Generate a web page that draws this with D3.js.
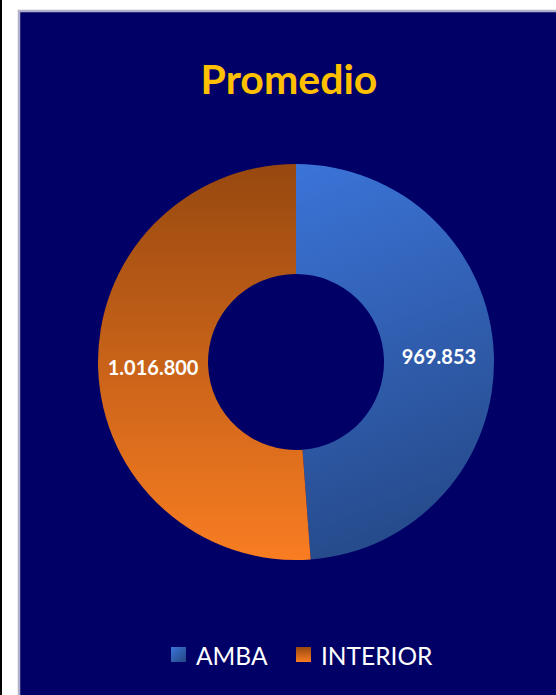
<!DOCTYPE html>
<html><head><meta charset="utf-8">
<script src="https://cdn.jsdelivr.net/npm/d3@7"></script>
<style>html,body{margin:0;padding:0;background:#fff;overflow:hidden}</style>
</head><body>
<script>
const title = "Promedio";
const categories = ["AMBA", "INTERIOR"];
const values = [969853, 1016800];
const labels = ["969.853", "1.016.800"];

const W = 556, H = 695;
const svg = d3.select("body").append("svg").attr("width", W).attr("height", H);

// frame
svg.append("rect").attr("x",0).attr("y",0).attr("width",2).attr("height",H).attr("fill","#000");
svg.append("rect").attr("x",19).attr("y",11).attr("width",W).attr("height",H).attr("fill","#000066")
  .attr("stroke","#b0b0c8").attr("stroke-width",2.5);

const defs = svg.append("defs");
const cx = 296, cy = 362, rOut = 198, rIn = 88;

const gA = defs.append("linearGradient").attr("id","gA").attr("gradientUnits","userSpaceOnUse")
  .attr("x1",0).attr("y1",-rOut).attr("x2",rOut*0.8).attr("y2",rOut);
gA.append("stop").attr("offset","0").attr("stop-color","#3b74d8");
gA.append("stop").attr("offset","1").attr("stop-color","#244683");
const gI = defs.append("linearGradient").attr("id","gI").attr("gradientUnits","userSpaceOnUse")
  .attr("x1",0).attr("y1",-rOut).attr("x2",0).attr("y2",rOut);
gI.append("stop").attr("offset","0").attr("stop-color","#974810");
gI.append("stop").attr("offset","1").attr("stop-color","#f97d22");

const gAL = defs.append("linearGradient").attr("id","gAL").attr("x1",0).attr("y1",0).attr("x2",1).attr("y2",1);
gAL.append("stop").attr("offset","0").attr("stop-color","#3b74d8");
gAL.append("stop").attr("offset","1").attr("stop-color","#244683");
const gIL = defs.append("linearGradient").attr("id","gIL").attr("x1",0).attr("y1",0).attr("x2",0).attr("y2",1);
gIL.append("stop").attr("offset","0").attr("stop-color","#974810");
gIL.append("stop").attr("offset","1").attr("stop-color","#f97d22");

const fills = d3.scaleOrdinal().domain(categories).range(["url(#gA)","url(#gI)"]);
const legFills = d3.scaleOrdinal().domain(categories).range(["url(#gAL)","url(#gIL)"]);

svg.append("text").attr("x",289).attr("y",94).attr("text-anchor","middle")
  .attr("font-family","Lato, 'Open Sans', sans-serif").attr("font-weight","bold")
  .attr("font-size",41).attr("fill","#ffc000").text(title);

const pie = d3.pie().sort(null).value(d => d.v);
const data = categories.map((c,i) => ({c, v: values[i], l: labels[i]}));
const arcs = pie(data);
const arc = d3.arc().innerRadius(rIn).outerRadius(rOut);

svg.selectAll("path.slice").data(arcs).join("path").attr("class","slice")
  .attr("transform",`translate(${cx},${cy})`)
  .attr("d", arc)
  .attr("fill", d => fills(d.data.c));

svg.selectAll("text.lbl").data(arcs).join("text").attr("class","lbl")
  .attr("transform", d => { const [x,y] = arc.centroid(d); return `translate(${x+cx},${y+cy})`; })
  .attr("text-anchor","middle").attr("dy","0.36em")
  .attr("font-family","Lato, 'Open Sans', sans-serif").attr("font-weight","bold")
  .attr("font-size",20).attr("fill","#fff").text(d => d.data.l);

// legend
const legX = [171, 296];
const leg = svg.selectAll("g.leg").data(categories).join("g").attr("class","leg")
  .attr("transform",(d,i)=>`translate(${legX[i]},647)`);
leg.append("rect").attr("width",15).attr("height",15).attr("fill", d => legFills(d));
leg.append("text").attr("x",25).attr("y",18).attr("font-family","Lato, 'Open Sans', sans-serif")
  .attr("font-size",24.5).attr("fill","#fff").text(d => d);
</script>
</body></html>
